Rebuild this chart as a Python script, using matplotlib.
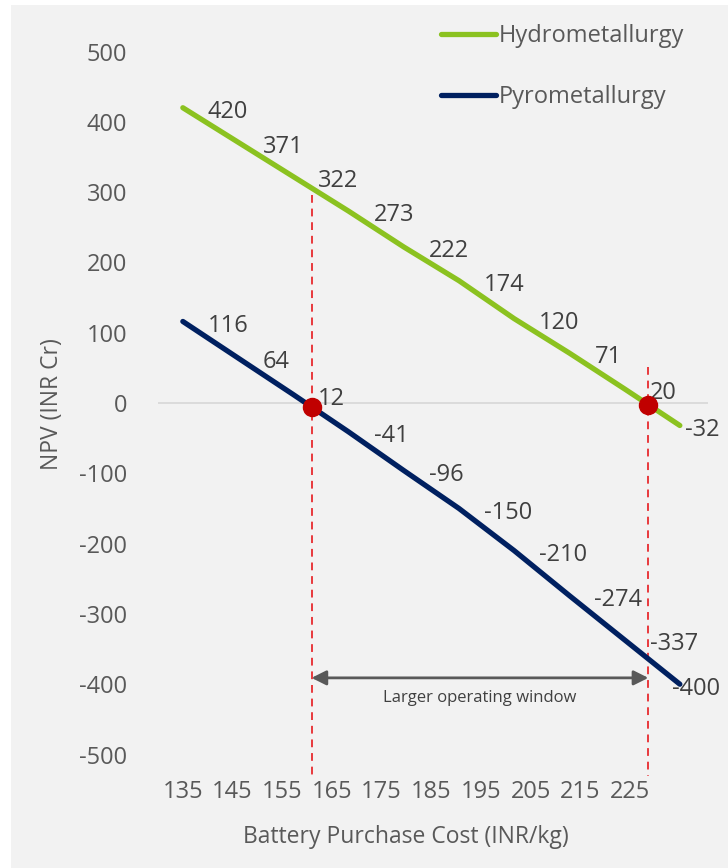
import numpy as np
import matplotlib
matplotlib.use("Agg")
import matplotlib.pyplot as plt
from matplotlib.patches import Rectangle

plt.rcParams['font.family'] = ['Open Sans', 'DejaVu Sans']

# Battery purchase cost (INR/kg) and NPV (INR Cr) for both recycling routes
cost = [135, 145, 155, 165, 175, 185, 195, 205, 215, 225]
hydro_npv = [420, 371, 322, 273, 222, 174, 120, 71, 20, -32]
pyro_npv = [116, 64, 12, -41, -96, -150, -210, -274, -337, -400]
cost_labels = ["135", "145", "155", "165", "175", "185", "195", "205", "215", "225"]
y_ticks = [500, 400, 300, 200, 100, 0, -100, -200, -300, -400, -500]
# Break-even purchase costs (pyro, hydro)
breakeven_cost = [158.3, 219.3]

GREEN = "#8BC220"
NAVY = "#002060"
RED = "#C00000"
DASH_RED = "#E8383D"
TICK_GREY = "#595959"
LABEL_GREY = "#404040"
BG = "#F2F2F2"

W, H = 728, 868
fig = plt.figure(figsize=(W / 100, H / 100), dpi=100)
fig.patch.set_facecolor("white")
fig.patches.append(Rectangle((11 / W, 0), 1 - 11 / W, 1 - 5 / H,
                             transform=fig.transFigure, facecolor=BG,
                             edgecolor="none", zorder=-10))

ymin, ymax = -525, 560
ax_left, ax_right = 158, 708
ax_top = 403 - ymax * 0.703
ax_bot = 403 - ymin * 0.703
ax = fig.add_axes([ax_left / W, 1 - ax_bot / H, (ax_right - ax_left) / W,
                   (ax_bot - ax_top) / H])
ax.set_facecolor("none")
ax.set_xlim(130.5, 230.1)
ax.set_ylim(ymin, ymax)
for s in ax.spines.values():
    s.set_visible(False)

ax.axhline(0, color="#D9D9D9", lw=1.3, zorder=1)

ax.plot(cost, hydro_npv, color=GREEN, lw=3.8, solid_capstyle="round",
        label="Hydrometallurgy", zorder=3)
ax.plot(cost, pyro_npv, color=NAVY, lw=3.8, solid_capstyle="round",
        label="Pyrometallurgy", zorder=3)

# value labels, shifted to the right of each point
label_font = dict(fontsize=17, color=LABEL_GREY, va="center_baseline")
for i, (c, v) in enumerate(zip(cost, hydro_npv)):
    dx = 18 if i < len(cost) - 1 else 4
    ax.annotate(str(v), (c, v), xytext=(dx, -1), textcoords="offset points",
                ha="left", zorder=5, **label_font)
for i, (c, v) in enumerate(zip(cost, pyro_npv)):
    dx = 18 if i < len(cost) - 1 else -6
    ax.annotate(str(v), (c, v), xytext=(dx, -1), textcoords="offset points",
                ha="left", zorder=5, **label_font)

# break-even markers and guide lines
be_y = [np.interp(breakeven_cost[0], cost, pyro_npv),
        np.interp(breakeven_cost[1], cost, hydro_npv)]
guide_top = [296, 51]
for xc, yt in zip(breakeven_cost, guide_top):
    ax.plot([xc, xc], [yt, -530], color=DASH_RED, lw=1.4, ls=(0, (4, 3)),
            clip_on=False, zorder=2)
ax.plot(breakeven_cost, be_y, "o", color=RED, ms=13, zorder=6)

# operating window arrow
ax.annotate("", xy=(breakeven_cost[1], -391), xytext=(breakeven_cost[0], -391),
            arrowprops=dict(arrowstyle="<|-|>", color=TICK_GREY, lw=2,
                            mutation_scale=22, shrinkA=0, shrinkB=0), zorder=4)
ax.text(sum(breakeven_cost) / 2, -420, "Larger operating window", ha="center",
        va="center", fontsize=12, color=LABEL_GREY)

# axes ticks
tick_pos = np.linspace(135.0, 216.0, len(cost_labels))
ax.set_xticks(tick_pos)
ax.set_xticklabels(cost_labels)
ax.set_yticks(y_ticks)
ax.set_yticklabels([str(t) for t in y_ticks])
ax.tick_params(axis="both", length=0, labelsize=17, labelcolor=TICK_GREY)
ax.tick_params(axis="x", pad=6)
ax.tick_params(axis="y", pad=22)

fig.text(406 / W, 1 - 837 / H, "Battery Purchase Cost (INR/kg)", ha="center",
         va="center", fontsize=16.5, color=TICK_GREY)
fig.text(52 / W, 1 - 404 / H, "NPV (INR Cr)", ha="center", va="center",
         rotation=90, fontsize=16.5, color=TICK_GREY)

fig.legend(loc="upper left", bbox_to_anchor=(420 / W, 1 - 3 / H),
           frameon=False, fontsize=17, labelcolor=TICK_GREY,
           handlelength=2.3, handletextpad=0.15, labelspacing=1.55)

fig.savefig("out.png", dpi=100, facecolor=fig.get_facecolor())
